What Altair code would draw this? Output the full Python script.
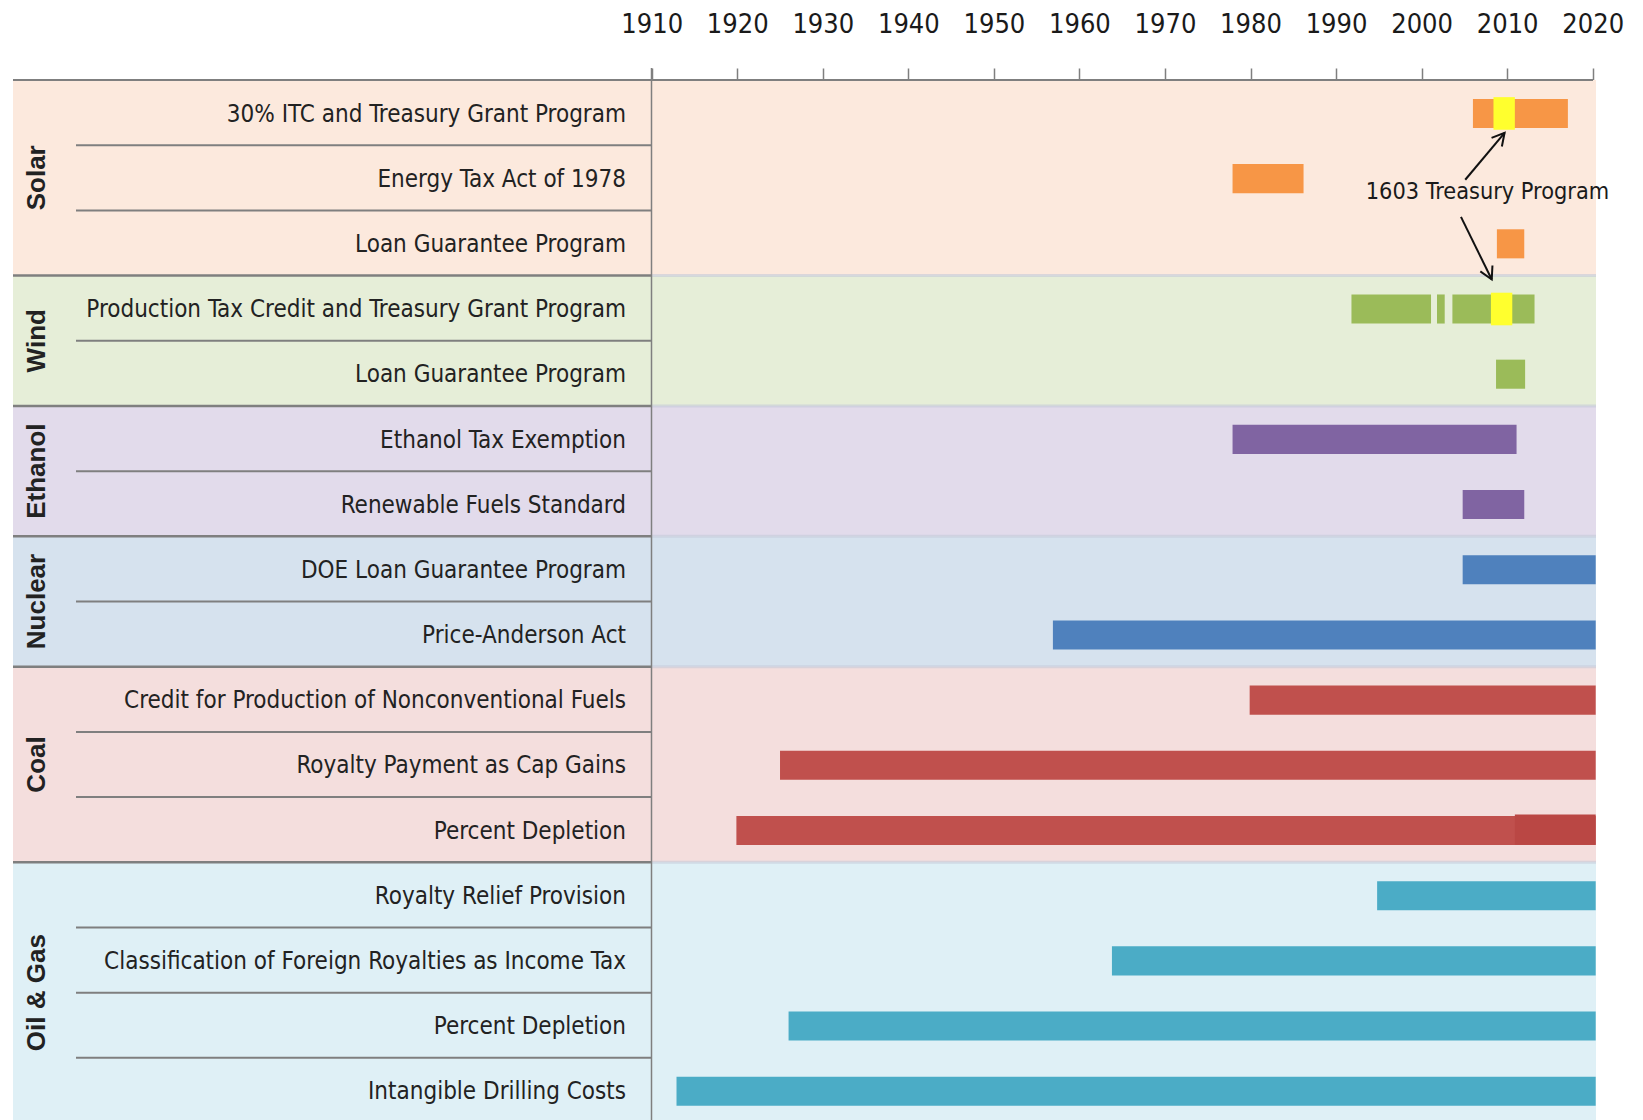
import altair as alt
import pandas as pd

# ---------------- data ----------------
categories = ["Solar", "Wind", "Ethanol", "Nuclear", "Coal", "Oil & Gas"]
category_rows = [3, 2, 2, 2, 3, 4]

programs = [
    "30% ITC and Treasury Grant Program",
    "Energy Tax Act of 1978",
    "Loan Guarantee Program",
    "Production Tax Credit and Treasury Grant Program",
    "Loan Guarantee Program",
    "Ethanol Tax Exemption",
    "Renewable Fuels Standard",
    "DOE Loan Guarantee Program",
    "Price-Anderson Act",
    "Credit for Production of Nonconventional Fuels",
    "Royalty Payment as Cap Gains",
    "Percent Depletion",
    "Royalty Relief Provision",
    "Classification of Foreign Royalties as Income Tax",
    "Percent Depletion",
    "Intangible Drilling Costs",
]

# bar segments: row index of the program, start year, end year
bar_rows = [0, 1, 2, 3, 3, 3, 4, 5, 6, 7, 8, 9, 10, 11, 12, 13, 14, 15]
bar_start = [2006.0, 1977.9, 2008.8, 1991.8, 2001.8, 2003.6, 2008.7, 1977.9, 2004.8,
             2004.8, 1956.9, 1979.9, 1925.0, 1919.9, 1994.8, 1963.8, 1926.0, 1912.9]
bar_end = [2017.1, 1986.2, 2012.0, 2001.1, 2002.7, 2013.2, 2012.1, 2011.1, 2012.0,
           2020.35, 2020.35, 2020.35, 2020.35, 2020.35, 2020.35, 2020.35, 2020.35, 2020.35]

# 1603 Treasury Program highlights
highlight_rows = [0, 3]
highlight_start = [2008.4, 2008.1]
highlight_end = [2010.9, 2010.6]

# extra segment on coal percent depletion
overlay_rows = [11]
overlay_start = [2010.9]
overlay_end = [2020.35]

years = list(range(1910, 2021, 10))

annotation_text = ["1603 Treasury Program"]
annotation_year = [2007.7]
annotation_row = [1.72]

arrow_tail_year = [2005.1, 2004.6]
arrow_tail_row = [1.53, 2.1]
arrow_head_year = [2009.7, 2008.2]
arrow_head_row = [0.81, 3.06]

# ---------------- styles ----------------
band_colors = ["#FCE9DD", "#E6EED8", "#E2DBEB", "#D6E2EE", "#F4DEDD", "#DFF0F6"]
bar_colors = ["#F79646", "#9BBB59", "#8064A2", "#4F81BD", "#C0504D", "#4BACC6"]
FONT = "DejaVu Sans Condensed, sans-serif"
CAT_FONT = "Liberation Sans, Arial, sans-serif"
W, H = 1590, 1043
LEFT_DIV = 638.5
PLOT_RIGHT = 1583

# ---------------- tables ----------------
row_category = []
for c, n in zip(categories, category_rows):
    row_category += [c] * n
rows_df = pd.DataFrame({"row": list(range(len(programs))), "program": programs,
                        "category": row_category})

g_start, acc = [], 0
for n in category_rows:
    g_start.append(acc)
    acc += n
groups_df = pd.DataFrame({
    "category": categories,
    "y0": g_start,
    "y1": [s + n for s, n in zip(g_start, category_rows)],
    "fill": band_colors,
})
groups_df["mid"] = (groups_df["y0"] + groups_df["y1"]) / 2

inner = []
for s, n in zip(g_start, category_rows):
    inner += [s + k for k in range(1, n)]
inner_df = pd.DataFrame({"b": inner})
outer_df = pd.DataFrame({"b": g_start[1:]})

cat_color = dict(zip(categories, bar_colors))
bars_df = pd.DataFrame({"row": bar_rows, "start": bar_start, "end": bar_end})
bars_df["color"] = [cat_color[row_category[r]] for r in bar_rows]
hi_df = pd.DataFrame({"row": highlight_rows, "start": highlight_start, "end": highlight_end})
ov_df = pd.DataFrame({"row": overlay_rows, "start": overlay_start, "end": overlay_end})
ann_df = pd.DataFrame({"text": annotation_text, "year": annotation_year, "row": annotation_row})
arr_df = pd.DataFrame({"ty": arrow_tail_year, "tr": arrow_tail_row,
                       "hy": arrow_head_year, "hr": arrow_head_row})

# ---------------- scales ----------------
XS = alt.Scale(domain=[1910, 2020], range=[LEFT_DIV + 0.2, 1579.7], nice=False, zero=False)
YS = alt.Scale(domain=[0, 16], reverse=True, nice=False, zero=False)
X_AXIS = alt.Axis(orient="top", values=years, format="d", title=None, domain=False,
                  grid=False, tickSize=12, tickColor="#7f7f7f", tickWidth=1.5,
                  labelFont=FONT, labelFontSize=27, labelColor="#1a1a1a",
                  labelPadding=36, labelBaseline="alphabetic", labelFlush=False,
                  labelOverlap=False)

bg = alt.Chart(groups_df).mark_rect().encode(
    x=alt.value(0), x2=alt.value(PLOT_RIGHT),
    y=alt.Y("y0:Q", scale=YS, axis=None), y2="y1:Q",
    color=alt.Color("fill:N", scale=None),
)

inner_lines = alt.Chart(inner_df).mark_rule(color="#7f7f7f", strokeWidth=2).encode(
    x=alt.value(63), x2=alt.value(LEFT_DIV), y=alt.Y("b:Q", scale=YS, axis=None))

outer_left = alt.Chart(outer_df).mark_rule(color="#7f7f7f", strokeWidth=2.5).encode(
    x=alt.value(0), x2=alt.value(LEFT_DIV), y=alt.Y("b:Q", scale=YS, axis=None))

outer_right = alt.Chart(outer_df).mark_rule(color="#c4c9d8", strokeWidth=3, opacity=0.6).encode(
    x=alt.value(LEFT_DIV), x2=alt.value(PLOT_RIGHT), y=alt.Y("b:Q", scale=YS, axis=None))

top_line = alt.Chart(groups_df.head(1)).mark_rule(color="#7f7f7f", strokeWidth=2).encode(
    x=alt.value(0), x2=alt.value(1580), y=alt.value(0))

divider = alt.Chart(groups_df.head(1)).mark_rule(color="#7f7f7f", strokeWidth=1.5).encode(
    x=alt.value(LEFT_DIV), y=alt.value(-12), y2=alt.value(H))

bars = alt.Chart(bars_df).mark_rect().transform_calculate(
    ya="datum.row + 0.29", yb="datum.row + 0.736"
).encode(
    x=alt.X("start:Q", scale=XS, axis=X_AXIS), x2="end:Q",
    y=alt.Y("ya:Q", scale=YS, axis=None), y2="yb:Q",
    color=alt.Color("color:N", scale=None),
)

overlay = alt.Chart(ov_df).mark_rect(color="#BA4744").transform_calculate(
    ya="datum.row + 0.268", yb="datum.row + 0.733"
).encode(
    x=alt.X("start:Q", scale=XS, axis=X_AXIS), x2="end:Q",
    y=alt.Y("ya:Q", scale=YS, axis=None), y2="yb:Q",
)

highlights = alt.Chart(hi_df).mark_rect(color="#FFFF2E").transform_calculate(
    ya="datum.row + 0.263", yb="datum.row + 0.763"
).encode(
    x=alt.X("start:Q", scale=XS, axis=X_AXIS), x2="end:Q",
    y=alt.Y("ya:Q", scale=YS, axis=None), y2="yb:Q",
)

row_labels = alt.Chart(rows_df).mark_text(
    align="right", baseline="middle", font=FONT, fontSize=24, color="#222222", dy=2
).transform_calculate(mid="datum.row + 0.5").encode(
    x=alt.value(613), y=alt.Y("mid:Q", scale=YS, axis=None), text="program:N")

cat_labels = alt.Chart(groups_df).mark_text(
    align="center", baseline="middle", angle=270, font=CAT_FONT,
    fontSize=26, fontWeight="bold", color="#222222"
).encode(x=alt.value(24), y=alt.Y("mid:Q", scale=YS, axis=None), text="category:N")

ann = alt.Chart(ann_df).mark_text(
    align="center", baseline="middle", font=FONT, fontSize=23.3, color="#1a1a1a"
).encode(x=alt.X("year:Q", scale=XS, axis=X_AXIS), y=alt.Y("row:Q", scale=YS, axis=None),
         text="text:N")

arrows = alt.Chart(arr_df).mark_rule(color="#111111", strokeWidth=2).encode(
    x=alt.X("ty:Q", scale=XS, axis=X_AXIS), x2="hy:Q",
    y=alt.Y("tr:Q", scale=YS, axis=None), y2="hr:Q")

HEAD = "M-0.55,1 L0,0 L0.55,1"
head_up = alt.Chart(arr_df.head(1)).mark_point(
    shape=HEAD, angle=40, size=600, filled=False, strokeWidth=2, color="#111111", opacity=1
).encode(x=alt.X("hy:Q", scale=XS, axis=X_AXIS), y=alt.Y("hr:Q", scale=YS, axis=None))
head_down = alt.Chart(arr_df.tail(1)).mark_point(
    shape=HEAD, angle=154, size=600, filled=False, strokeWidth=2, color="#111111", opacity=1
).encode(x=alt.X("hy:Q", scale=XS, axis=X_AXIS), y=alt.Y("hr:Q", scale=YS, axis=None))

chart = alt.layer(
    bg, outer_right, inner_lines, outer_left, top_line, divider,
    bars, overlay, highlights, row_labels, cat_labels, arrows, head_up, head_down, ann
).properties(
    width=W, height=H,
    autosize=alt.AutoSizeParams(type="none"),
    padding={"left": 5, "top": 72, "right": 30, "bottom": 0},
    background="white",
).configure_view(stroke=None)

chart.save("out.html", embed_options={"renderer": "svg", "actions": False})
